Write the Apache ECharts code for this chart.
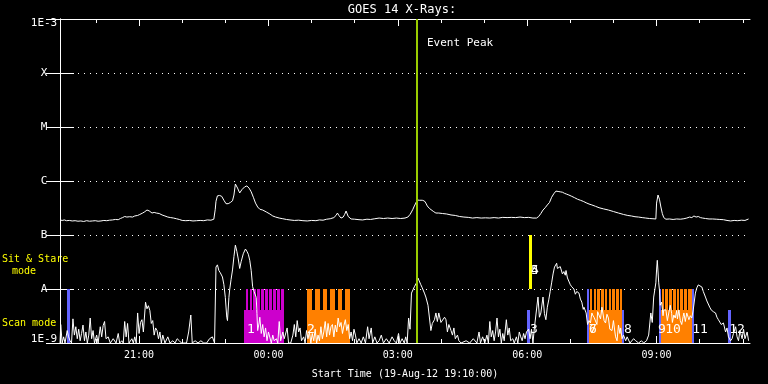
<!DOCTYPE html>
<html><head><meta charset="utf-8">
<script src="https://cdn.jsdelivr.net/npm/echarts@6/dist/echarts.min.js"></script>
<style>html,body{margin:0;padding:0;background:#000}#c{width:768px;height:384px}</style>
</head><body><div id="c"></div>
<script>
// ---- data (x = minutes after start time 19-Aug-12 19:10:00) ----
const titleText = 'GOES 14 X-Rays:';
const startLabel = 'Start Time (19-Aug-12 19:10:00)';
const xRange = [0, 960];
const hourTicks = [50,110,170,230,290,350,410,470,530,590,650,710,770,830,890,950];
const xLabelTimes = [110,290,470,650,830];
const xLabelTexts = ['21:00','00:00','03:00','06:00','09:00'];
const yTickExps = [-9,-8,-7,-6,-5,-4,-3];
const yTickLabels = ['1E-9','A','B','C','M','X','1E-3'];
const eventPeak = 496.5;
const eventLabel = 'Event Peak';

const longFlux = [[0,1.90e-7],[3,1.86e-7],[6,1.90e-7],[9,1.84e-7],[13,1.86e-7],[17,1.82e-7],[21,1.84e-7],[25,1.80e-7],[29,1.82e-7],[33,1.78e-7],[37,1.84e-7],[41,1.80e-7],[45,1.82e-7],[49,1.84e-7],[53,1.80e-7],[57,1.82e-7],[61,1.86e-7],[65,1.84e-7],[69,1.88e-7],[73,1.90e-7],[77,1.94e-7],[81,1.92e-7],[84,2.02e-7],[87,2.10e-7],[90,2.20e-7],[93,2.15e-7],[97,2.18e-7],[101,2.15e-7],[104,2.25e-7],[108,2.30e-7],[111,2.40e-7],[115,2.55e-7],[118,2.70e-7],[121,2.90e-7],[124,2.80e-7],[128,2.55e-7],[131,2.62e-7],[134,2.55e-7],[138,2.50e-7],[142,2.35e-7],[146,2.25e-7],[150,2.15e-7],[154,2.10e-7],[158,2.06e-7],[162,2.00e-7],[166,1.94e-7],[170,1.86e-7],[175,1.84e-7],[180,1.86e-7],[185,1.82e-7],[190,1.84e-7],[195,1.86e-7],[200,1.84e-7],[205,1.90e-7],[210,1.88e-7],[214,1.96e-7],[216,3.0e-7],[217,4.2e-7],[219,5.3e-7],[222,5.4e-7],[225,5.2e-7],[228,4.4e-7],[231,3.8e-7],[234,3.8e-7],[237,4.0e-7],[240,4.3e-7],[242,5.5e-7],[244,8.8e-7],[247,7.4e-7],[250,6.0e-7],[253,6.9e-7],[257,7.8e-7],[260,8.1e-7],[263,7.4e-7],[266,6.3e-7],[269,5.0e-7],[272,3.9e-7],[275,3.3e-7],[278,3.0e-7],[282,2.9e-7],[287,2.67e-7],[292,2.45e-7],[296,2.25e-7],[300,2.15e-7],[305,2.06e-7],[310,2.0e-7],[315,1.94e-7],[320,1.90e-7],[326,1.86e-7],[332,1.88e-7],[338,1.84e-7],[344,1.82e-7],[350,1.86e-7],[356,1.84e-7],[361,1.90e-7],[366,1.88e-7],[371,1.96e-7],[376,2.0e-7],[381,2.1e-7],[384,2.3e-7],[386,2.55e-7],[388,2.3e-7],[391,2.06e-7],[394,2.15e-7],[396,2.4e-7],[398,2.78e-7],[401,2.2e-7],[405,1.98e-7],[410,1.96e-7],[416,1.92e-7],[421,1.90e-7],[427,1.96e-7],[432,1.94e-7],[438,2.0e-7],[444,2.06e-7],[450,2.02e-7],[456,2.06e-7],[462,2.02e-7],[468,2.06e-7],[474,2.02e-7],[480,2.06e-7],[484,2.15e-7],[487,2.4e-7],[489,2.67e-7],[491,3.0e-7],[493,3.45e-7],[495,3.9e-7],[497,4.45e-7],[500,4.4e-7],[504,4.4e-7],[507,4.26e-7],[509,3.9e-7],[511,3.45e-7],[514,3.1e-7],[516,2.9e-7],[520,2.7e-7],[523,2.55e-7],[527,2.55e-7],[532,2.5e-7],[538,2.45e-7],[544,2.35e-7],[550,2.3e-7],[556,2.2e-7],[562,2.15e-7],[568,2.12e-7],[574,2.06e-7],[580,2.1e-7],[586,2.06e-7],[592,2.08e-7],[598,2.06e-7],[604,2.1e-7],[610,2.06e-7],[616,2.12e-7],[622,2.1e-7],[628,2.12e-7],[634,2.1e-7],[640,2.15e-7],[646,2.1e-7],[652,2.12e-7],[658,2.06e-7],[663,2.06e-7],[666,2.2e-7],[669,2.5e-7],[672,2.9e-7],[675,3.2e-7],[678,3.6e-7],[681,4.0e-7],[684,5.0e-7],[687,5.8e-7],[690,6.5e-7],[693,6.4e-7],[696,6.3e-7],[699,6.2e-7],[702,5.9e-7],[705,5.7e-7],[708,5.5e-7],[712,5.2e-7],[716,4.9e-7],[720,4.6e-7],[724,4.4e-7],[728,4.2e-7],[732,3.95e-7],[736,3.75e-7],[740,3.6e-7],[745,3.4e-7],[750,3.2e-7],[756,3.05e-7],[763,2.9e-7],[770,2.72e-7],[777,2.55e-7],[784,2.4e-7],[790,2.3e-7],[795,2.25e-7],[800,2.18e-7],[805,2.15e-7],[810,2.1e-7],[815,2.06e-7],[820,2.02e-7],[825,2.0e-7],[829,1.98e-7],[830,3.9e-7],[832,5.5e-7],[834,4.6e-7],[836,3.3e-7],[838,2.5e-7],[840,2.1e-7],[843,1.96e-7],[848,1.98e-7],[853,1.94e-7],[858,1.98e-7],[863,1.96e-7],[868,2.0e-7],[872,2.06e-7],[876,2.15e-7],[879,2.1e-7],[882,2.25e-7],[885,2.15e-7],[888,2.2e-7],[891,2.1e-7],[894,2.06e-7],[898,2.02e-7],[903,1.98e-7],[908,1.98e-7],[913,1.96e-7],[918,1.94e-7],[923,1.92e-7],[928,1.86e-7],[933,1.82e-7],[938,1.86e-7],[943,1.84e-7],[948,1.88e-7],[953,1.86e-7],[958,1.98e-7]];

const shortFlux = [[0,1.0e-9],[1,2.2e-9],[3,1.0e-9],[5,1.3e-9],[7,1.0e-9],[10,1.7e-9],[12,1.3e-9],[14,1.1e-9],[16,1.0e-9],[18,2.8e-9],[20,1.4e-9],[22,2.0e-9],[24,1.2e-9],[26,1.8e-9],[28,1.1e-9],[30,1.5e-9],[32,2.15e-9],[34,1.1e-9],[36,1.6e-9],[38,1.0e-9],[40,1.4e-9],[42,2.9e-9],[44,1.2e-9],[46,1.7e-9],[48,1.0e-9],[51,1.4e-9],[53,1.0e-9],[56,2.0e-9],[58,1.3e-9],[60,2.1e-9],[62,2.5e-9],[64,1.2e-9],[67,1.3e-9],[70,1.0e-9],[74,1.2e-9],[78,1.0e-9],[81,1.5e-9],[83,1.0e-9],[86,1.1e-9],[88,1.0e-9],[90,2.5e-9],[92,1.3e-9],[94,2.3e-9],[96,1.0e-9],[100,1.2e-9],[102,1.0e-9],[104,1.3e-9],[106,1.0e-9],[108,3.6e-9],[110,1.5e-9],[112,2.4e-9],[114,2.7e-9],[116,1.6e-9],[119,5.7e-9],[121,4.3e-9],[123,4.9e-9],[125,4.0e-9],[127,2.3e-9],[129,2.6e-9],[131,1.4e-9],[133,1.9e-9],[135,1.7e-9],[137,1.2e-9],[139,1.6e-9],[141,1.0e-9],[143,1.4e-9],[146,1.0e-9],[150,1.3e-9],[153,1.0e-9],[157,1.1e-9],[160,1.0e-9],[163,1.2e-9],[166,1.1e-9],[169,1.0e-9],[176,1.0e-9],[179,1.6e-9],[182,3.3e-9],[184,1.0e-9],[188,1.1e-9],[192,1.0e-9],[196,1.1e-9],[200,1.0e-9],[204,1.0e-9],[208,1.2e-9],[212,1.3e-9],[215,1.0e-9],
[216,1.0e-9],[217,2.55e-8],[219,2.8e-8],[221,2.2e-8],[223,2.0e-8],[226,1.67e-8],[228,1.2e-8],[230,7.0e-9],[232,3.0e-9],[233,2.6e-9],[235,7.0e-9],[236,9.6e-9],[238,1.5e-8],[240,2.25e-8],[242,4.0e-8],[244,6.5e-8],[246,5.0e-8],[248,3.6e-8],[250,2.4e-8],[252,3.2e-8],[255,4.5e-8],[258,5.5e-8],[260,5.0e-8],[262,4.4e-8],[264,3.4e-8],[266,2.2e-8],[268,1.1e-8],[270,9.0e-9],[273,7.0e-9],[274,3.5e-9],[275,1.7e-9],
[277,2.35e-9],[278,3.0e-9],[280,1.5e-9],[282,2.2e-9],[284,1.3e-9],[286,1.9e-9],[288,1.1e-9],[290,1.6e-9],[292,1.5e-9],[294,1.0e-9],[296,1.4e-9],[298,1.1e-9],[301,1.2e-9],[303,1.0e-9],[305,2.5e-9],[307,1.1e-9],[310,1.6e-9],[312,1.2e-9],[314,1.3e-9],[316,1.9e-9],[318,1.0e-9],[321,1.0e-9],[324,1.4e-9],[326,2.2e-9],[328,1.3e-9],[330,2.6e-9],[332,1.6e-9],[334,1.9e-9],[336,1.1e-9],[339,1.3e-9],[341,1.0e-9],[343,1.7e-9],[345,1.2e-9],[347,1.6e-9],[349,1.0e-9],[351,1.5e-9],[353,1.1e-9],[355,1.8e-9],[357,1.0e-9],[359,1.4e-9],[361,1.1e-9],[363,2.0e-9],[365,1.2e-9],[367,1.6e-9],[369,2.5e-9],[371,1.3e-9],[373,2.3e-9],[375,1.4e-9],[377,2.0e-9],[379,2.2e-9],[381,1.3e-9],[383,2.15e-9],[385,1.6e-9],[387,2.9e-9],[389,2.0e-9],[391,2.4e-9],[393,1.5e-9],[395,2.1e-9],[397,2.7e-9],[399,1.7e-9],[401,2.2e-9],[403,1.2e-9],[405,1.6e-9],[407,1.1e-9],[409,1.8e-9],[411,1.4e-9],[413,1.0e-9],[416,1.2e-9],[419,1.0e-9],[422,1.3e-9],[425,1.0e-9],[428,2.0e-9],[430,1.2e-9],[433,1.9e-9],[435,1.0e-9],[438,1.3e-9],[441,1.0e-9],[444,1.1e-9],[447,1.4e-9],[450,1.0e-9],[454,1.2e-9],[458,1.0e-9],[462,1.3e-9],[465,1.1e-9],[468,1.0e-9],[471,1.5e-9],[473,1.0e-9],[476,1.2e-9],[479,1.0e-9],[481,1.3e-9],[483,1.0e-9],[485,2.9e-9],[487,1.8e-9],[489,8.4e-9],[491,9.6e-9],[493,1.1e-8],[496,1.3e-8],[498,1.6e-8],[500,1.6e-8],[502,1.2e-8],[504,1.05e-8],[507,8.4e-9],[509,7.1e-9],[512,5.0e-9],[514,4.6e-9],[516,1.7e-9],[518,2.3e-9],[521,2.7e-9],[523,3.6e-9],[525,2.5e-9],[527,3.6e-9],[530,2.4e-9],[532,2.35e-9],[535,3.0e-9],[537,2.7e-9],[539,1.6e-9],[541,2.2e-9],[544,1.7e-9],[546,1.4e-9],[548,1.9e-9],[550,1.2e-9],[553,1.4e-9],[555,1.1e-9],[558,1.0e-9],
[560,1.0e-9],[565,1.1e-9],[570,1.0e-9],[575,1.2e-9],[580,1.0e-9],[583,1.6e-9],[585,1.0e-9],[588,1.3e-9],[591,1.0e-9],[594,1.4e-9],[596,1.0e-9],[598,2.5e-9],[600,1.3e-9],[602,1.7e-9],[604,1.1e-9],[606,1.6e-9],[608,2.9e-9],[610,1.3e-9],[612,1.8e-9],[614,1.0e-9],[616,1.5e-9],[618,1.1e-9],[621,2.7e-9],[623,1.4e-9],[625,1.9e-9],[627,1.1e-9],[630,1.2e-9],[632,1.0e-9],[635,1.3e-9],[637,1.0e-9],[639,1.6e-9],[641,1.3e-9],[643,1.1e-9],[645,1.5e-9],[647,1.2e-9],[649,1.6e-9],[652,1.8e-9],[654,1.2e-9],[656,1.8e-9],[658,1.0e-9],[660,1.9e-9],[662,2.0e-9],[665,7.1e-9],[667,3.0e-9],[669,3.6e-9],[672,7.1e-9],[674,3.5e-9],[676,2.7e-9],[678,4.6e-9],[680,6.3e-9],[682,9.0e-9],[684,1.3e-8],[686,1.9e-8],[688,2.55e-8],[690,2.7e-8],[691,3.0e-8],[692,2.4e-8],[694,2.25e-8],[696,2.6e-8],[697,2.55e-8],[699,1.9e-8],[701,2.1e-8],[703,1.8e-8],[704,2.2e-8],[706,1.6e-8],[708,1.5e-8],[710,1.2e-8],[712,1.1e-8],[714,1.15e-8],[715,1.0e-8],[717,8.0e-9],[719,9.0e-9],[722,8.4e-9],[724,6.5e-9],[726,5.7e-9],[728,4.2e-9],[729,4.6e-9],[732,3.6e-9],[734,2.2e-9],[736,2.6e-9],[738,2.35e-9],[740,3.6e-9],[741,3.3e-9],[743,3.0e-9],[745,2.9e-9],[747,2.2e-9],[748,3.8e-9],[750,4.1e-9],[752,2.8e-9],[754,4.6e-9],[757,2.6e-9],[759,2.35e-9],[761,3.4e-9],[763,2.9e-9],[765,1.8e-9],[768,1.7e-9],[770,2.6e-9],[772,1.6e-9],[773,1.3e-9],[775,1.1e-9],[777,2.15e-9],[779,1.5e-9],[780,1.9e-9],[782,1.2e-9],[784,1.4e-9],[787,1.1e-9],[789,1.3e-9],[791,1.3e-9],[793,1.0e-9],[795,1.0e-9],[798,1.2e-9],[801,1.1e-9],[805,1.0e-9],[809,1.1e-9],[812,1.0e-9],[816,1.1e-9],[819,1.4e-9],[822,3.6e-9],[824,2.4e-9],[826,7.1e-9],[829,1.3e-8],[830,2.25e-8],[831,3.4e-8],[833,1.3e-8],[834,9.6e-9],[835,5.0e-9],[837,5.7e-9],[839,3.2e-9],[840,4.1e-9],[843,4.1e-9],[845,2.6e-9],[847,2.7e-9],[849,5.0e-9],[851,3.5e-9],[852,2.4e-9],[854,3.3e-9],[856,2.9e-9],[858,4.0e-9],[859,2.8e-9],[861,4.1e-9],[863,2.6e-9],[865,2.2e-9],[867,3.1e-9],[868,3.6e-9],[870,2.5e-9],[872,3.6e-9],[874,3.0e-9],[875,2.7e-9],[877,3.2e-9],[879,2.9e-9],[881,4.1e-9],[884,8.4e-9],[886,1.05e-8],[888,1.19e-8],[890,1.1e-8],[893,1.09e-8],[895,9.0e-9],[898,7.1e-9],[900,6.0e-9],[902,5.7e-9],[904,4.6e-9],[906,4.1e-9],[909,3.8e-9],[912,3.6e-9],[914,3.0e-9],[916,2.7e-9],[918,2.9e-9],[920,2.2e-9],[923,2.35e-9],[926,1.6e-9],[928,1.9e-9],[930,1.3e-9],[933,1.1e-9],[935,1.2e-9],[937,1.5e-9],[940,2.0e-9],[942,1.3e-9],[944,1.1e-9],[946,1.7e-9],[947,1.5e-9],[949,1.2e-9],[951,1.8e-9],[953,1.2e-9],[955,1.3e-9],[956,1.6e-9],[958,1.1e-9]];

// observation-mode bars: [start min, end min, low flux, high flux]
const blueBars = [[9.3,13.5,1e-9,1e-8],[649.2,653.8,1e-9,4e-9],[733,736.6,1e-9,1e-8],[782,785.3,1e-9,4e-9],[832.9,836.6,1e-9,1e-8],[879.1,882.4,1e-9,1e-8],[930,933.7,1e-9,4e-9]];
const yellowBars = [[652.4,656.0,1e-8,1e-7],[652.4,657.2,1e-8,4e-8]];
const magentaBlocks = [[256.4,312.3,1e-9,4e-9]];
const magentaTeeth = [[258.2,262.2],[263.7,267.7],[269.1,273.1],[274.6,278.6],[280.0,284.0],[285.5,289.5],[291.0,295.0],[296.4,300.4],[301.9,305.9],[307.3,311.3]];
const orangeBlocks = [[343.5,403.9,1e-9,4e-9],[736.6,782.0,1e-9,4e-9],[836.6,879.1,1e-9,4e-9]];
const orangeTeeth = [[343.5,350.8],[355,361.4],[365.5,372],[376.2,382.4],[386.3,392.8],[397,403.9],[737,740.6],[742.3,745.9],[747.5,751.1],[752.8,756.4],[758.1,761.7],[763.3,766.9],[768.6,772.2],[773.9,777.5],[779.1,782.0],[837,840.6],[842.3,845.9],[847.5,851.1],[852.8,856.4],[858.1,861.7],[863.3,866.9],[868.6,872.2],[873.9,879.1]];
const teethRange = [4e-9, 1e-8];
const obsLabels = [[265.8,1.75e-9,'1'],[349.8,1.75e-9,'2'],[659.4,1.75e-9,'3'],[661.5,2.15e-8,'4'],[661.5,2.15e-8,'5'],[741.3,1.75e-9,'6'],[741.3,1.75e-9,'7'],[789.8,1.75e-9,'8'],[837.7,1.75e-9,'9'],[852.3,1.75e-9,'10'],[889.8,1.75e-9,'11'],[942.6,1.75e-9,'12']];

// ---- build ----
const FONT = '"DejaVu Sans Mono", monospace';
const palette = ['#6464ff', '#ffff00', '#cc00cc', '#ff8000'];
const rectData = [];
magentaBlocks.forEach(b => rectData.push([b[0], b[1], b[2], b[3], 2]));
magentaTeeth.forEach(t => rectData.push([t[0], t[1], teethRange[0], teethRange[1], 2]));
orangeBlocks.forEach(b => rectData.push([b[0], b[1], b[2], b[3], 3]));
orangeTeeth.forEach(t => rectData.push([t[0], t[1], teethRange[0], teethRange[1], 3]));
blueBars.forEach(b => rectData.push([b[0], b[1], b[2], b[3], 0]));
yellowBars.forEach(b => rectData.push([b[0], b[1], b[2], b[3], 1]));

const chart = echarts.init(document.getElementById('c'), null, {renderer: 'canvas'});
const white = '#ffffff';
function xAxisDef(pos, ticks, len, line, labels) {
  return {
    type: 'value', position: pos, min: xRange[0], max: xRange[1],
    axisLine: {show: line, onZero: false, lineStyle: {color: white, width: 1}},
    axisTick: {show: true, inside: true, length: len, customValues: ticks, lineStyle: {color: white}},
    axisLabel: labels ? {show: true, color: white, fontFamily: FONT, fontSize: 10, margin: 7, customValues: xLabelTimes,
      formatter: v => { const i = xLabelTimes.indexOf(Math.round(v)); return i >= 0 ? xLabelTexts[i] : ''; }} : {show: false},
    splitLine: {show: false},
    name: labels ? startLabel : '', nameLocation: 'middle', nameGap: 26,
    nameTextStyle: {color: white, fontFamily: FONT, fontSize: 10}
  };
}
function yAxisDef(pos, labels) {
  return {
    type: 'log', logBase: 10, position: pos, min: 1e-9, max: 1e-3, splitNumber: 6,
    axisLine: {show: true, lineStyle: {color: white, width: 1}},
    axisTick: {show: true, inside: true, length: 14, lineStyle: {color: white}},
    axisLabel: labels ? {show: true, color: white, fontFamily: FONT, fontSize: 11, align: 'center', margin: 16,
      rich: {top: {fontFamily: FONT, fontSize: 11, color: white, padding: [9, 0, 0, 0]},
             bot: {fontFamily: FONT, fontSize: 11, color: white, padding: [0, 0, 7, 0]}},
      formatter: v => {
        const e = Math.round(Math.log10(v));
        const i = yTickExps.indexOf(e);
        if (i < 0) return '';
        if (e === yTickExps[yTickExps.length - 1]) return '{top|' + yTickLabels[i] + '}';
        if (e === yTickExps[0]) return '{bot|' + yTickLabels[i] + '}';
        return yTickLabels[i];
      }} : {show: false},
    splitLine: labels ? {show: true, lineStyle: {color: white, width: 1, type: [1, 5]}} : {show: false}
  };
}

chart.setOption({
  backgroundColor: '#000000',
  animation: false,
  grid: {left: 60, right: 18, top: 19, bottom: 41, containLabel: false},
  xAxis: [
    xAxisDef('bottom', xLabelTimes, 7, true, true),
    xAxisDef('bottom', hourTicks, 4, false, false),
    xAxisDef('top', xLabelTimes, 7, true, false),
    xAxisDef('top', hourTicks, 4, false, false)
  ],
  yAxis: [yAxisDef('left', true), yAxisDef('right', false)],
  series: [
    {
      type: 'custom', xAxisIndex: 0, yAxisIndex: 0, z: 1, silent: true,
      dimensions: ['t0', 't1', 'lo', 'hi', 'c'],
      encode: {x: [0, 1], y: [2, 3]},
      data: rectData,
      renderItem: (params, api) => {
        const p0 = api.coord([api.value(0), api.value(3)]);
        const p1 = api.coord([api.value(1), api.value(2)]);
        const x0 = Math.round(p0[0]), x1 = Math.round(p1[0]);
        const y0 = Math.round(p0[1]), y1 = Math.round(p1[1]);
        return {type: 'rect', shape: {x: x0, y: y0, width: Math.max(2, x1 - x0), height: y1 - y0},
          style: {fill: palette[api.value(4)]}};
      }
    },
    {
      type: 'line', name: 'long', data: longFlux, showSymbol: false, symbol: 'none', z: 3,
      lineStyle: {color: white, width: 1}, silent: true,
      markLine: {symbol: 'none', silent: true, label: {show: false},
        lineStyle: {color: '#9acd00', width: 2, type: 'solid'}, data: [{xAxis: eventPeak}]}
    },
    {
      type: 'line', name: 'short', data: shortFlux, showSymbol: false, symbol: 'none', z: 3,
      lineStyle: {color: white, width: 1}, silent: true
    },
    {
      type: 'custom', z: 5, silent: true,
      data: obsLabels.map(d => [d[0], d[1]]),
      encode: {x: 0, y: 1},
      renderItem: (params, api) => {
        const p = api.coord([api.value(0), api.value(1)]);
        return {type: 'text', x: Math.round(p[0]), y: Math.round(p[1]),
          style: {text: obsLabels[params.dataIndex][2], fill: white, font: '13px ' + FONT,
            align: 'center', verticalAlign: 'middle', textAlign: 'center', textVerticalAlign: 'middle'}};
      }
    }
  ]
});

const peakX = chart.convertToPixel({xAxisIndex: 0}, eventPeak);
const txt = (x, y, text, color, size, align) => ({
  type: 'text', x: x, y: y, silent: true,
  style: {text: text, fill: color, font: size + 'px ' + FONT, align: align, textAlign: align,
    verticalAlign: 'middle', textVerticalAlign: 'middle'}
});
chart.setOption({
  graphic: [
    txt(402, 10, titleText, white, 12, 'center'),
    txt(Math.round(peakX) + 10, 43, eventLabel, white, 11, 'left'),
    txt(2, 259, 'Sit & Stare', '#ffff00', 10, 'left'),
    txt(24, 271, 'mode', '#ffff00', 10, 'center'),
    txt(2, 323, 'Scan mode', '#ffff00', 10, 'left')
  ]
});
</script>
</body></html>
